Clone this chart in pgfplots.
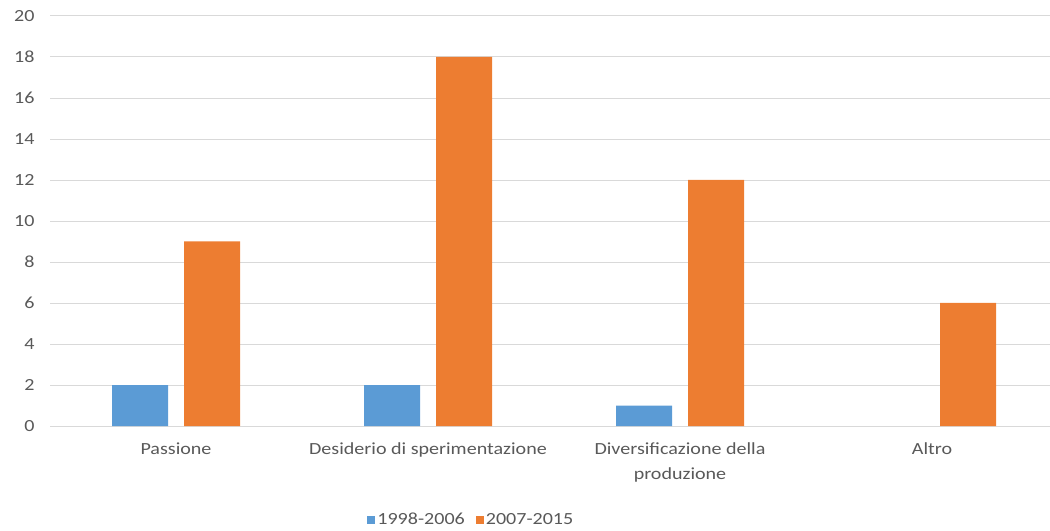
\documentclass[border=0pt]{standalone}
\usepackage{fontspec}
\setmainfont{Carlito}[FakeStretch=1.18]
\usepackage{pgfplots}
\pgfplotsset{compat=1.18}
\definecolor{serA}{HTML}{5B9BD5}
\definecolor{serB}{HTML}{ED7D31}
\definecolor{gridc}{HTML}{D9D9D9}
\definecolor{txt}{HTML}{595959}
\begin{document}
\begin{tikzpicture}
\begin{axis}[
  scale only axis,
  width=1008bp, height=410bp,
  xmin=-0.5, xmax=3.5,
  ymin=0, ymax=20,
  ytick={0,2,...,20},
  xtick={0,1,2,3},
  xticklabels={Passione, Desiderio di sperimentazione, {Diversificazione della\\produzione}, Altro},
  ybar=16bp,
  bar width=56bp,
  axis line style={draw=none},
  major tick length=0pt,
  ymajorgrids,
  grid style={gridc, line width=1pt},
  font=\fontsize{17bp}{25bp}\selectfont,
  tick label style={txt},
  /pgf/number format/assume math mode=true,
  yticklabel style={xshift=-12bp},
  xticklabel style={align=center, yshift=-13bp},
  legend style={draw=none, at={(0.418,-0.229)}, anchor=center,
    legend columns=2, text=txt, font=\fontsize{17bp}{21bp}\selectfont,
    /tikz/every even column/.append style={column sep=9bp}},
  legend image code/.code={\fill[#1] (0bp,-4bp) rectangle (8bp,4bp);},
]
\addplot[fill=serA, draw=none] coordinates {(0,2) (1,2) (2,1)};
\addplot[fill=serB, draw=none] coordinates {(0,9) (1,18) (2,12) (3,6)};
\legend{1998-2006, 2007-2015}
\end{axis}
\pgfresetboundingbox
\path (-50bp,-105bp) rectangle (1000bp,426bp);
\end{tikzpicture}
\end{document}
